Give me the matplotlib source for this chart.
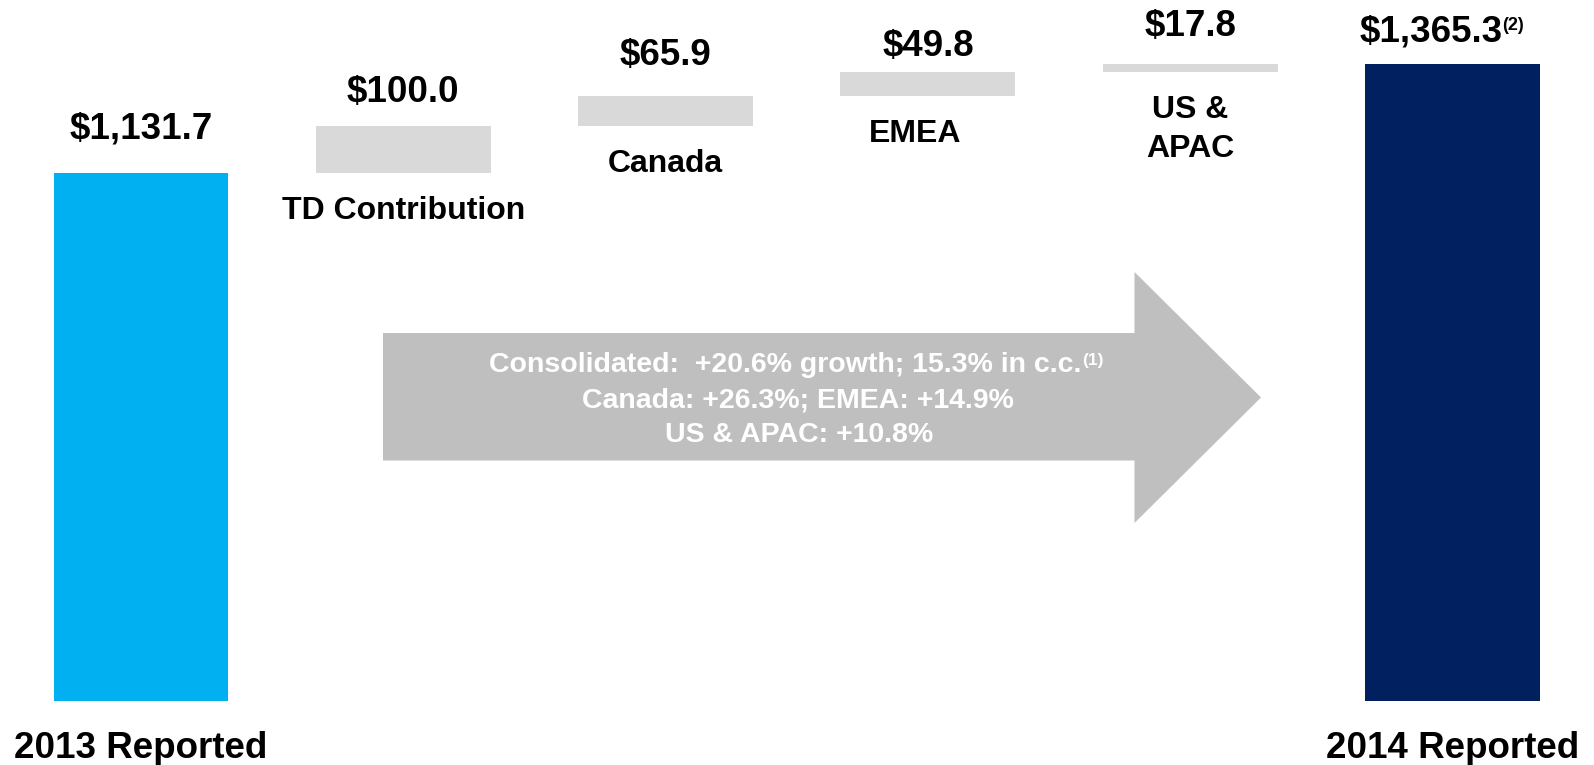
import matplotlib
matplotlib.use("Agg")
import matplotlib.pyplot as plt
from matplotlib.patches import Polygon

plt.rcParams['font.family'] = ['Liberation Sans', 'DejaVu Sans']
plt.rcParams['font.weight'] = 'bold'

# ---- data ----
categories = ["2013 Reported", "TD Contribution", "Canada", "EMEA", "US &\nAPAC", "2014 Reported"]
start_total = 1131.7
deltas = [100.0, 65.9, 49.8, 17.8]
end_total = 1365.3
value_labels = ["$1,131.7", "$100.0", "$65.9", "$49.8", "$17.8", "$1,365.3"]
end_note = "(2)"
arrow_lines = ["Consolidated:  +20.6% growth; 15.3% in c.c.", "Canada: +26.3%; EMEA: +14.9%", "US & APAC: +10.8%"]
arrow_note = "(1)"

# ---- layout / style ----
W, H, DPI = 1594, 765, 100
col_start, col_end, col_delta = "#00B0F0", "#002060", "#D9D9D9"
arrow_col = "#BFBFBF"
bar_w = 0.667
value_gap = [34, 24, 31, 16, 28, 23]      # px from bar top to label baseline
value_dx = [0, 0, 0, 0, 0, -21]
cat_gap = 46                               # px below floating bar bottom to baseline
cat_dx = [0, 0, 0, -13, 0, 0]

fig = plt.figure(figsize=(W / DPI, H / DPI), dpi=DPI)
ax = fig.add_axes([0, 0, 1, 1])
ax.set_xlim(-0.5376, 5.5395)
ax.set_ylim(-137.2, 1502.5)
ax.axis('off')

# waterfall geometry from data
bottoms, heights, colors = [0.0], [start_total], [col_start]
run = start_total
for d in deltas:
    bottoms.append(run)
    heights.append(d)
    colors.append(col_delta)
    run += d
bottoms.append(0.0)
heights.append(end_total)
colors.append(col_end)

xs = list(range(len(categories)))
ax.bar(xs, heights, bottom=bottoms, width=bar_w, color=colors, linewidth=0, zorder=2)

# value labels
texts = []
for i, (b, h, lab) in enumerate(zip(bottoms, heights, value_labels)):
    t = ax.annotate(lab, xy=(i, b + h), xytext=(value_dx[i], value_gap[i]),
                    textcoords='offset pixels', ha='center', va='baseline',
                    fontsize=26.5, fontweight='bold', color='black')
    texts.append(t)
ax.annotate(end_note, xy=(1, 1), xycoords=texts[-1], xytext=(-1, -3),
            textcoords='offset pixels', ha='left', va='top',
            fontsize=13, fontweight='bold', color='black')

# category labels
for i, cat in enumerate(categories):
    if i in (0, len(categories) - 1):
        ax.annotate(cat, xy=(i, 0), xytext=(cat_dx[i], -57), textcoords='offset pixels',
                    ha='center', va='baseline', fontsize=26.5, fontweight='bold')
    else:
        first = cat.split("\n")[0]
        rest = cat.split("\n")[1:]
        ax.annotate(first, xy=(i, bottoms[i]), xytext=(cat_dx[i], -cat_gap),
                    textcoords='offset pixels', ha='center', va='baseline',
                    fontsize=23, fontweight='bold')
        for k, line in enumerate(rest):
            ax.annotate(line, xy=(i, bottoms[i]), xytext=(cat_dx[i], -cat_gap - 38.5 * (k + 1)),
                        textcoords='offset pixels', ha='center', va='baseline',
                        fontsize=23, fontweight='bold')

# big arrow (decoration, pixel layout)
def fp(x, y):
    return (x / W, 1 - y / H)

arrow_pts = [fp(383, 333), fp(1134.5, 333), fp(1134.5, 272), fp(1261, 397.5),
             fp(1134.5, 523), fp(1134.5, 460.5), fp(383, 460.5)]
ax.add_patch(Polygon(arrow_pts, closed=True, transform=fig.transFigure,
                     facecolor=arrow_col, edgecolor='none', zorder=1))

line_x = [785, 798, 799.5]
line_y = [372, 407, 442]
first_line = None
for k, line in enumerate(arrow_lines):
    t = ax.text(*fp(line_x[k], line_y[k]), line, transform=fig.transFigure,
                ha='center', va='baseline', fontsize=20.5, fontweight='bold',
                color='white', zorder=3)
    if k == 0:
        first_line = t
ax.annotate(arrow_note, xy=(1, 1), xycoords=first_line, xytext=(1, -1),
            textcoords='offset pixels', ha='left', va='top',
            fontsize=12.5, fontweight='bold', color='white', zorder=4)

fig.savefig("out.png", dpi=DPI, facecolor='white')
